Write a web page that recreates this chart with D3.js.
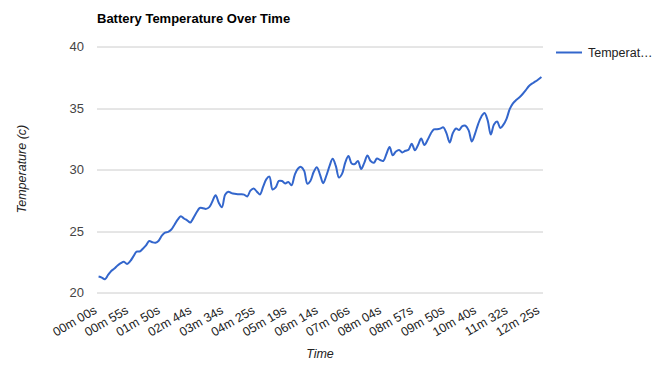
<!DOCTYPE html>
<html>
<head>
<meta charset="utf-8">
<script src="https://cdn.jsdelivr.net/npm/d3@7"></script>
<style>
  body { margin: 0; background: #fff; }
  text { font-family: Arial, "Liberation Sans", sans-serif; }
</style>
</head>
<body>
<svg id="chart" width="664" height="373"></svg>
<script>
// temperature readings (c), one per sample
const temperature = [
  21.31, 21.23, 21.10, 21.44, 21.77, 21.96, 22.21, 22.40, 22.51, 22.33,
  22.56, 22.95, 23.33, 23.35, 23.57, 23.84, 24.20, 24.10, 24.06, 24.22,
  24.64, 24.88, 24.94, 25.13, 25.52, 25.93, 26.22, 26.03, 25.88, 25.70,
  26.08, 26.53, 26.88, 26.86, 26.81, 26.95, 27.43, 27.92, 27.30, 26.95,
  27.95, 28.20, 28.09, 28.03, 28.00, 28.00, 27.97, 27.82, 28.29, 28.47,
  28.22, 27.98, 28.60, 29.20, 29.43, 28.38, 28.55, 29.08, 29.07, 28.88,
  29.00, 28.73, 29.56, 30.07, 30.22, 29.90, 28.85, 29.10, 29.80, 30.20,
  29.60, 28.90, 29.50, 30.28, 30.88, 30.30, 29.35, 29.67, 30.58, 31.10,
  30.50, 30.45, 30.70, 30.05, 30.55, 31.15, 30.70, 30.55, 30.90, 30.78,
  30.70, 31.27, 31.83, 31.17, 31.47, 31.60, 31.39, 31.53, 31.62, 32.10,
  31.58, 32.00, 32.52, 32.00, 32.40, 32.92, 33.27, 33.28, 33.33, 33.43,
  32.94, 32.20, 32.97, 33.34, 33.22, 33.54, 33.56, 33.19, 32.28, 32.90,
  33.70, 34.30, 34.60, 34.00, 32.85, 33.66, 33.90, 33.38, 33.65, 34.15,
  34.93, 35.38, 35.65, 35.86, 36.12, 36.43, 36.77, 36.98, 37.14, 37.32,
  37.52
];
// every 10th sample is labelled on the axis
const timeLabels = ['00m 00s', '00m 55s', '01m 50s', '02m 44s', '03m 34s', '04m 25s',
  '05m 19s', '06m 14s', '07m 06s', '08m 04s', '08m 57s', '09m 50s', '10m 40s',
  '11m 32s', '12m 25s'];
const labelEvery = 10;
const yTicks = [20, 25, 30, 35, 40];

const margin = {top: 46.5, right: 121, bottom: 80.3, left: 97};
const width = 664 - margin.left - margin.right;
const height = 373 - margin.top - margin.bottom;

const svg = d3.select('#chart');
const g = svg.append('g').attr('transform', `translate(${margin.left},${margin.top})`);

const x = d3.scalePoint()
  .domain(d3.range(temperature.length))
  .range([0, width])
  .padding(0.5);

const y = d3.scaleLinear()
  .domain([20, 40])
  .range([height, 0]);

// gridlines
g.append('g')
  .selectAll('line')
  .data(yTicks)
  .join('line')
    .attr('x1', 0)
    .attr('x2', width)
    .attr('y1', d => Math.round(y(d)) + 0.5)
    .attr('y2', d => Math.round(y(d)) + 0.5)
    .attr('stroke', '#cccccc')
    .attr('stroke-width', 1);

// y axis labels
const yAxis = g.append('g')
  .call(d3.axisLeft(y).tickValues(yTicks).tickSize(0).tickPadding(13));
yAxis.select('.domain').remove();
yAxis.selectAll('text')
  .attr('font-size', 13)
  .attr('fill', '#444');

// x axis labels, slanted
g.append('g')
  .selectAll('text')
  .data(timeLabels)
  .join('text')
    .attr('transform', (d, i) => `translate(${x(i * labelEvery) - 1},${height + 20}) rotate(-30)`)
    .attr('text-anchor', 'end')
    .attr('font-size', 12.5)
    .attr('fill', '#222')
    .text(d => d);

// temperature line (smoothed like the original)
const line = d3.line()
  .x((d, i) => x(i))
  .y(d => y(d))
  .curve(d3.curveCatmullRom.alpha(0.5));

g.append('path')
  .datum(temperature)
  .attr('fill', 'none')
  .attr('stroke', '#3366cc')
  .attr('stroke-width', 2)
  .attr('stroke-linejoin', 'round')
  .attr('d', line);

// title
svg.append('text')
  .attr('x', 97)
  .attr('y', 23)
  .attr('font-size', 13)
  .attr('font-weight', 'bold')
  .attr('fill', '#000')
  .text('Battery Temperature Over Time');

// axis titles
svg.append('text')
  .attr('transform', 'translate(26,169) rotate(-90)')
  .attr('text-anchor', 'middle')
  .attr('font-size', 12.5)
  .attr('font-style', 'italic')
  .attr('fill', '#222')
  .text('Temperature (c)');

svg.append('text')
  .attr('x', margin.left + width / 2)
  .attr('y', 358)
  .attr('text-anchor', 'middle')
  .attr('font-size', 12.5)
  .attr('font-style', 'italic')
  .attr('fill', '#222')
  .text('Time');

// legend
const legend = svg.append('g').attr('transform', 'translate(556,52.5)');
legend.append('line')
  .attr('x1', 0)
  .attr('x2', 26)
  .attr('stroke', '#3366cc')
  .attr('stroke-width', 2);
legend.append('text')
  .attr('x', 32)
  .attr('y', 4.5)
  .attr('font-size', 12.5)
  .attr('fill', '#222')
  .text('Temperat\u2026');
</script>
</body>
</html>
